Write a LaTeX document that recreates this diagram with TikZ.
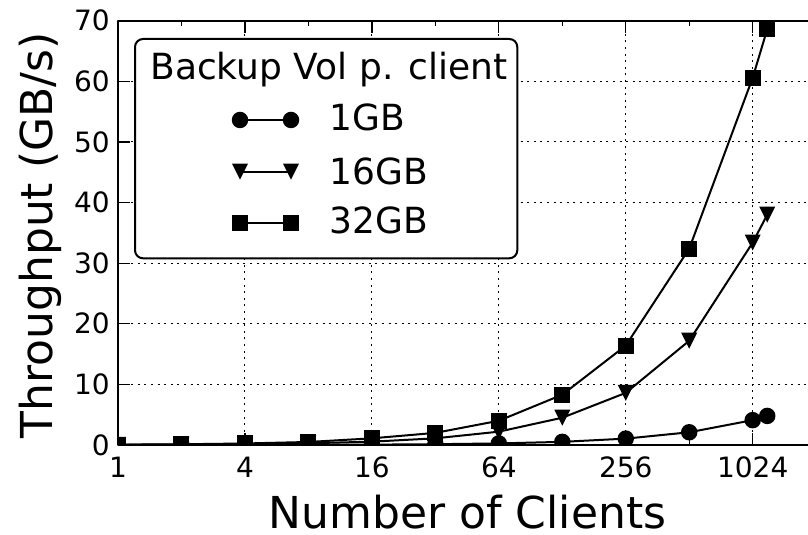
\documentclass[tikz,border=0pt]{standalone}
\usepackage{fontspec}
\setmainfont{DejaVu Sans}

\begin{document}
\begin{tikzpicture}[x=1pt, y=1pt, line join=round]
	% Stili per assi, griglia, curve e marcatori
	\tikzset{
		asse/.style={line width=2.2pt},
		tacca/.style={line width=1.3pt},
		griglia/.style={line width=1pt, dash pattern=on 2pt off 4.6pt},
		curva/.style={line width=2pt},
		pallino/.style={circle, fill, minimum size=16.5pt, inner sep=0pt},
		quadrato/.style={rectangle, fill, minimum size=16pt, inner sep=0pt},
		etic/.style={inner sep=0pt, font=\fontsize{28}{34}\selectfont},
		titolo/.style={inner sep=0pt, font=\fontsize{44}{52}\selectfont},
		leg/.style={inner sep=0pt, font=\fontsize{36}{42}\selectfont}
	}
	\clip (0,0) rectangle (808,535);

	% Area del grafico (x = log2 dei client, y = GB/s)
	\begin{scope}[shift={(118,90)}, x=63.47pt, y=6.061pt]
		% Griglia
		\foreach \k in {2,4,...,10} \draw[griglia] (\k,0) -- (\k,70);
		\foreach \v in {10,20,...,60} \draw[griglia] (0,\v) -- (11,\v);

		\begin{scope}
			\clip (0,0) rectangle (11,70);
			% Serie 1GB
			\foreach \lx/\v [count=\i] in {0/0.004, 1/0.008, 2/0.016, 3/0.03, 4/0.06, 5/0.13, 6/0.26, 7/0.52, 8/1.05, 9/2.1, 10/4.1, 10.229/4.8}
				\coordinate (a\i) at (\lx,\v);
			\draw[curva] (a1) \foreach \i in {2,...,12} {-- (a\i)};
			\foreach \i in {1,...,12} \node[pallino] (ma\i) at (a\i) {};

			% Serie 16GB
			\foreach \lx/\v [count=\i] in {0/0.035, 1/0.07, 2/0.14, 3/0.28, 4/0.55, 5/1.1, 6/2.2, 7/4.5, 8/8.6, 9/17.2, 10/33.4, 10.229/38.0}
				\coordinate (b\i) at (\lx,\v);
			\draw[curva] (b1) \foreach \i in {2,...,12} {-- (b\i)};
			\foreach \i in {1,...,12} \fill (b\i) ++(-8pt,8pt) -- ++(16pt,0) -- ++(-8pt,-16pt) -- cycle;

			% Serie 32GB
			\foreach \lx/\v [count=\i] in {0/0.06, 1/0.12, 2/0.25, 3/0.5, 4/1.1, 5/2.0, 6/4.0, 7/8.3, 8/16.4, 9/32.4, 10/60.6, 10.229/68.6}
				\coordinate (c\i) at (\lx,\v);
			\draw[curva] (c1) \foreach \i in {2,...,12} {-- (c\i)};
			\foreach \i in {1,...,12} \node[quadrato] (mc\i) at (c\i) {};
		\end{scope}

		% Tacche sugli assi
		\foreach \k in {0,2,...,10} {
			\draw[tacca] (\k,70) -- ++(0,-12pt);
			\draw[tacca] (\k,0) -- ++(0,12pt);
		}
		\foreach \k in {1,3,...,9} {
			\draw[tacca] (\k,70) -- ++(0,-5pt);
			\draw[tacca] (\k,0) -- ++(0,5pt);
		}
		\foreach \v in {10,20,...,60} \draw[tacca] (0,\v) -- ++(12pt,0);

		% Assi
		\draw[asse] (11,0) -- (0,0) -- (0,70) -- (11,70);

		% Etichette delle tacche
		\foreach \v in {0,10,...,70} \node[etic, anchor=east, xshift=-8pt] (y\v) at (0,\v) {\v};
		\foreach \k/\t in {0/1, 2/4, 4/16, 6/64, 8/256, 10/1024}
			\node[etic, anchor=base, yshift=-33pt] (x\t) at (\k,0) {\t};
	\end{scope}

	% Titoli degli assi
	\node[titolo, anchor=base] (xlab) at (467.5,6.5) {Number of Clients};
	\node[titolo, anchor=base, rotate=90] (ylab) at (52,299.5) {Throughput (GB/s)};

	% Legenda
	\draw[line width=2pt, rounded corners=8pt, fill=white] (135,276.7) rectangle (517.3,496);
	\node[leg, anchor=base] (legtit) at (329,455.7) {Backup Vol p. client};

	\node[pallino] (l1a) at (240,415) {};
	\node[pallino] (l1b) at (291,415) {};
	\draw[curva] (l1a) -- (l1b);
	\node[leg, anchor=base west] (l1t) at (329.3,404) {1GB};

	\coordinate (l2a) at (240,363.3);
	\coordinate (l2b) at (291,363.3);
	\draw[curva] (l2a) -- (l2b);
	\fill (l2a) ++(-8pt,8pt) -- ++(16pt,0) -- ++(-8pt,-16pt) -- cycle;
	\fill (l2b) ++(-8pt,8pt) -- ++(16pt,0) -- ++(-8pt,-16pt) -- cycle;
	\node[leg, anchor=base west] (l2t) at (329.3,350.7) {16GB};

	\node[quadrato] (l3a) at (240,311.7) {};
	\node[quadrato] (l3b) at (291,311.7) {};
	\draw[curva] (l3a) -- (l3b);
	\node[leg, anchor=base west] (l3t) at (329.3,301) {32GB};

\end{tikzpicture}
\end{document}
